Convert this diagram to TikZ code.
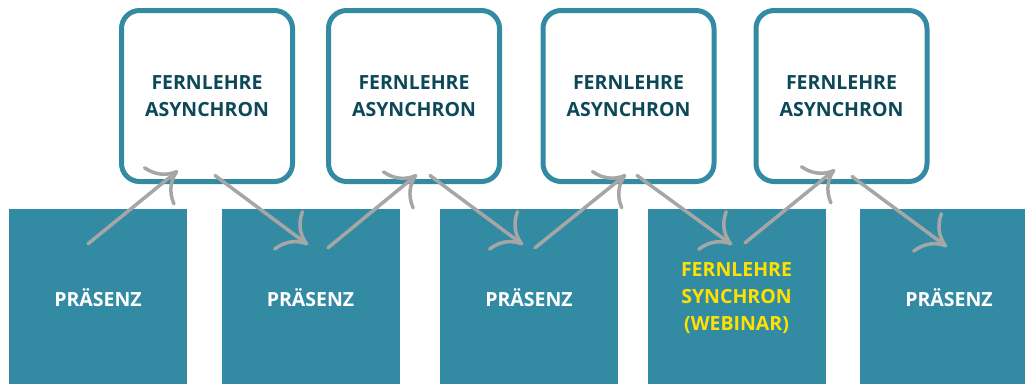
\documentclass[tikz,border=0pt]{standalone}
\usepackage{fontspec}
\setmainfont{Open Sans}
\usetikzlibrary{arrows.meta}

\definecolor{boxteal}{RGB}{51,139,163}
\definecolor{darkteal}{RGB}{12,72,88}
\definecolor{webyellow}{RGB}{255,225,0}
\definecolor{arrowgray}{RGB}{166,166,166}

\begin{document}
\begin{tikzpicture}[x=1pt,y=-1pt,
    every node/.style={font=\fontsize{19.5}{27}\selectfont\bfseries, align=center},
    online/.style={draw=boxteal, line width=5pt, fill=white, rounded corners=18pt,
      minimum size=171pt, inner sep=0pt, text=darkteal},
    onsite/.style={fill=boxteal, minimum size=178pt, inner sep=0pt, text=white},
    swoosh/.style={draw=arrowgray, line width=3.5pt, line cap=round,
      -{Computer Modern Rightarrow[length=26pt,width=50pt,line width=3.5pt]}}]
    \path[use as bounding box, clip] (0,0) rectangle (1025,383);

    % Praesenz and Fernlehre, unten
    \node[onsite] (b1) at (98,298) {PRÄSENZ};
    \node[onsite] (b2) at (310.5,298) {PRÄSENZ};
    \node[onsite] (b3) at (529,298) {PRÄSENZ};
    \node[onsite, text=webyellow] (b4) at (736.5,298) {FERNLEHRE\\SYNCHRON\\(WEBINAR)};
    \node[onsite] (b5) at (949,298) {PRÄSENZ};

    % asynchrone Phasen, oben
    \node[online] (t1) at (207,96) {FERNLEHRE\\ASYNCHRON};
    \node[online] (t2) at (414,96) {FERNLEHRE\\ASYNCHRON};
    \node[online] (t3) at (628.5,96) {FERNLEHRE\\ASYNCHRON};
    \node[online] (t4) at (841.5,96) {FERNLEHRE\\ASYNCHRON};

    \draw[swoosh] ([shift={(-10,35)}]b1.north) -- ([shift={(-29,-13.5)}]t1.south);
    \draw[swoosh] ([shift={(8,-8.5)}]t1.south) -- ([shift={(-2.5,36)}]b2.north);
    \draw[swoosh] ([shift={(17.5,39)}]b2.north) -- ([shift={(3,-9.5)}]t2.south);
    \draw[swoosh] ([shift={(16,-8.5)}]t2.south) -- ([shift={(-6,36)}]b3.north);
    \draw[swoosh] ([shift={(6,39)}]b3.north) -- ([shift={(-2.5,-9.5)}]t3.south);
    \draw[swoosh] ([shift={(8.5,-8.5)}]t3.south) -- ([shift={(-4.5,36)}]b4.north);
    \draw[swoosh] ([shift={(8.5,34)}]b4.north) -- ([shift={(-6.5,-14.5)}]t4.south);
    \draw[swoosh] ([shift={(10.5,-7.5)}]t4.south) -- ([shift={(-2,38)}]b5.north);
  \end{tikzpicture}
\end{document}
